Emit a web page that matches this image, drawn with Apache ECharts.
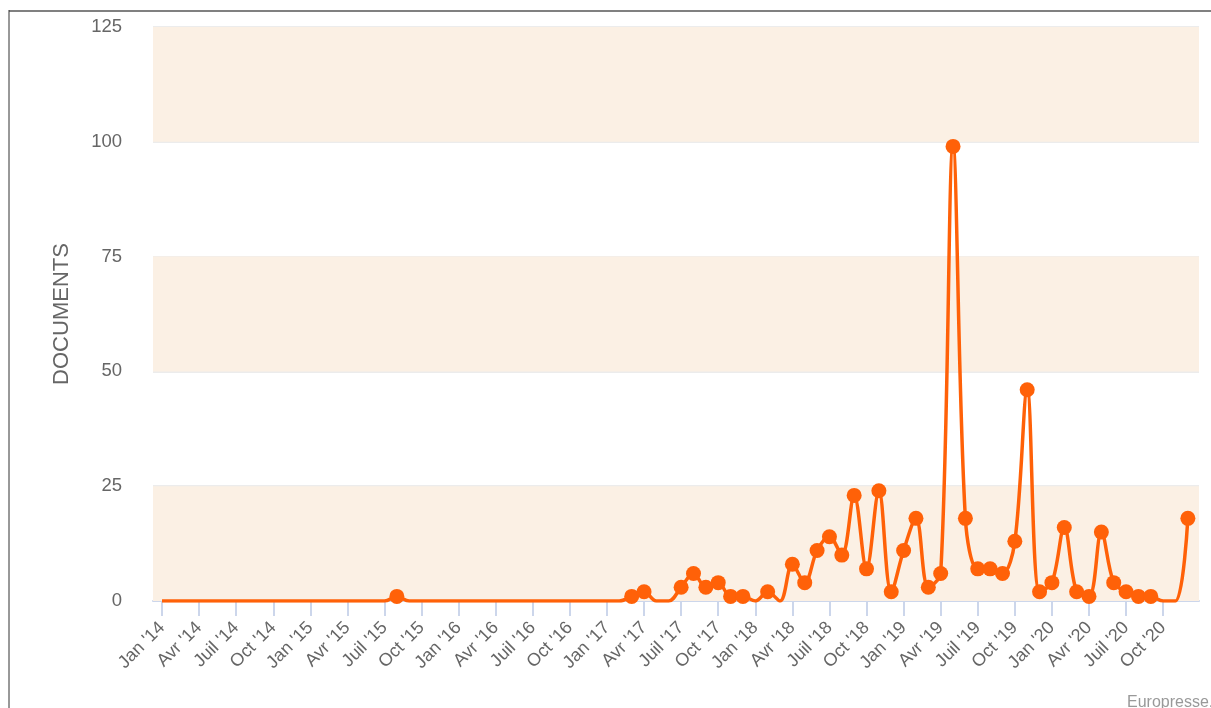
<!DOCTYPE html>
<html>
<head>
<meta charset="utf-8">
<script src="https://cdn.jsdelivr.net/npm/echarts@6/dist/echarts.min.js"></script>
<style>
  html, body { margin: 0; padding: 0; background: #fff; }
  #main { width: 1211px; height: 708px; }
</style>
</head>
<body>
<div id="main"></div>
<script>
// one value per month, Jan '14 .. Dec '20
const months = [];
for (let y = 14; y <= 20; y++) {
  ["Jan", "Fév", "Mar", "Avr", "Mai", "Juin", "Juil", "Août", "Sep", "Oct", "Nov", "Déc"].forEach((m) => months.push(m + " '" + y));
}

const documents = [
  0, 0, 0, 0, 0, 0, 0, 0, 0, 0, 0, 0,      // 2014
  0, 0, 0, 0, 0, 0, 0, 1, 0, 0, 0, 0,      // 2015
  0, 0, 0, 0, 0, 0, 0, 0, 0, 0, 0, 0,      // 2016
  0, 0, 1, 2, 0, 0, 3, 6, 3, 4, 1, 1,      // 2017
  0, 2, 0, 8, 4, 11, 14, 10, 23, 7, 24, 2, // 2018
  11, 18, 3, 6, 99, 18, 7, 7, 6, 13, 46, 2, // 2019
  4, 16, 2, 1, 15, 4, 2, 1, 1, 0, 0, 18,   // 2020
];

// ticks every quarter
const tickIndex = [];
for (let i = 0; i < months.length; i += 3) tickIndex.push(i);
const tickLabels = tickIndex.map((i) => months[i]);

const yTicks = [0, 25, 50, 75, 100, 125];
const bands = [[0, 25], [50, 75], [100, 125]];

const chart = echarts.init(document.getElementById("main"));

const option = {
  animation: false,
  textStyle: { fontFamily: "Liberation Sans, Arial, sans-serif" },
  grid: { left: 153, right: 12, top: 27, bottom: 107 },
  xAxis: {
    type: "value",
    min: -0.73,
    max: 83.9,
    axisLine: { lineStyle: { color: "#ccd6eb", width: 2 } },
    axisTick: { customValues: tickIndex, length: 15, lineStyle: { color: "#ccd6eb", width: 2 } },
    axisLabel: {
      customValues: tickIndex,
      rotate: 45,
      margin: 24,
      fontSize: 18,
      color: "#666",
      formatter: (v) => tickLabels[tickIndex.indexOf(v)],
    },
    splitLine: { show: false },
  },
  yAxis: {
    type: "value",
    min: yTicks[0],
    max: yTicks[yTicks.length - 1],
    interval: 25,
    name: "DOCUMENTS",
    nameLocation: "middle",
    nameRotate: 90,
    nameGap: 80,
    nameTextStyle: { fontSize: 22, color: "#666" },
    axisLine: { show: false },
    axisTick: { show: false },
    axisLabel: { fontSize: 18.5, color: "#666", margin: 31 },
    splitLine: { lineStyle: { color: "#e6e6e6", width: 1.5 } },
  },
  series: [
    {
      type: "line",
      smooth: 0.35,
      data: documents.map((v, i) => (v === 0 ? { value: [i, v], symbol: "none" } : [i, v])),
      symbol: "circle",
      symbolSize: 15,
      lineStyle: { color: "#ff6108", width: 3.5 },
      itemStyle: { color: "#ff6108" },
      markArea: {
        silent: true,
        itemStyle: { color: "#fbf0e4" },
        data: bands.map((b) => [{ yAxis: b[0] }, { yAxis: b[1] }]),
      },
    },
  ],
  graphic: [
    { type: "line", shape: { x1: 9, y1: 11, x2: 1211, y2: 11 }, style: { stroke: "#808080", lineWidth: 2 } },
    { type: "line", shape: { x1: 9, y1: 10, x2: 9, y2: 708 }, style: { stroke: "#333", lineWidth: 1 } },
    { type: "text", left: 1127, top: 695, style: { text: "Europresse.com", fontSize: 16, fill: "#999", fontFamily: "Liberation Sans, Arial, sans-serif" } },
  ],
};

chart.setOption(option);
</script>
</body>
</html>
